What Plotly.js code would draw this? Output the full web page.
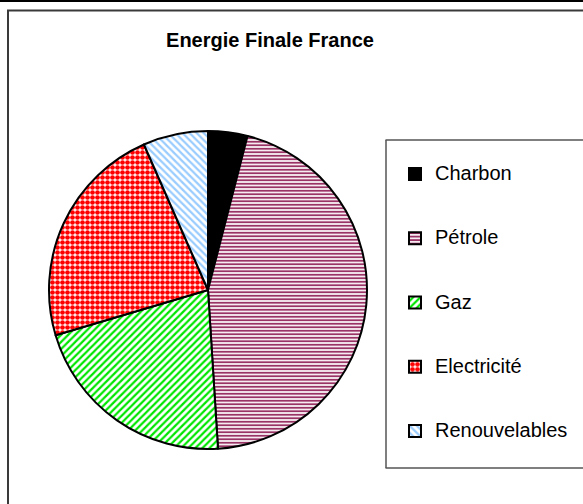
<!DOCTYPE html>
<html>
<head>
<meta charset="utf-8">
<script src="https://cdn.plot.ly/plotly-3.0.1.min.js"></script>
<style>
  html, body { margin: 0; padding: 0; background: #ffffff; }
  #chart { width: 583px; height: 504px; }
</style>
</head>
<body>
<div id="chart"></div>
<script>
// ---- Data (share of final energy, %) ----
var labels = ["Charbon", "Pétrole", "Gaz", "Electricité", "Renouvelables"];
var values = [4, 45, 21.4, 23, 6.6];
var chartTitle = "Energie Finale France";

// ---- Styles ----
var sliceColors   = ["#000000", "#ffffff", "#ffffff", "#ffffff", "#ffffff"];
var patternShapes = ["", "-", "/", ".", "\\"];
var patternFg     = ["#000000", "#993366", "#00e600", "#ff0000", "#99ccff"];
var patternBg     = ["#000000", "#ffffff", "#ffffff", "#ffffff", "#ffffff"];

var W = 583, H = 504;
function px(x) { return x / W; }
function py(y) { return 1 - y / H; }

// legend labels: visible text on middle line, blank lines for spacing
var legendText = labels.map(function (l) {
  return " <br><span style=\"font-size:20px\">" + l + "</span><br> ";
});

var cx = 208, cy = 290, r = 159;

var trace = {
  type: "pie",
  labels: legendText,
  values: values,
  sort: false,
  direction: "clockwise",
  rotation: 0,
  textinfo: "none",
  hoverinfo: "none",
  domain: { x: [px(cx - r), px(cx + r)], y: [py(cy + r), py(cy - r)] },
  marker: {
    colors: sliceColors,
    line: { color: "#000000", width: 2 },
    pattern: {
      shape: patternShapes,
      fgcolor: patternFg,
      bgcolor: patternBg,
      size: [8, 3.5, 5, 5, 5],
      solidity: [1, 0.55, 0.45, 0.7, 0.45]
    }
  },
  showlegend: true
};

var lineCol = "#3a3a3a";
var layout = {
  width: W, height: H,
  margin: { l: 0, r: 0, t: 0, b: 0, pad: 0 },
  paper_bgcolor: "#ffffff",
  plot_bgcolor: "#ffffff",
  font: { family: "Liberation Sans, Arial, sans-serif", color: "#000000" },
  title: {
    text: chartTitle,
    font: { family: "Liberation Sans, Arial, sans-serif", size: 20, weight: "bold", color: "#000000" },
    x: px(270), xanchor: "center", xref: "paper",
    y: py(40), yanchor: "middle", yref: "container"
  },
  legend: {
    x: px(395), xanchor: "left",
    y: py(137), yanchor: "top",
    bgcolor: "rgba(0,0,0,0)",
    borderwidth: 0,
    font: { family: "Liberation Sans, Arial, sans-serif", size: 15.7, color: "#000000" },
    valign: "middle",
    traceorder: "normal"
  },
  shapes: [
    { type: "line", xref: "paper", yref: "paper", x0: 0, x1: 1, y0: py(1), y1: py(1), line: { color: "#000000", width: 2 } },
    { type: "line", xref: "paper", yref: "paper", x0: px(8), x1: px(8), y0: py(10), y1: 0, line: { color: lineCol, width: 2 } },
    { type: "line", xref: "paper", yref: "paper", x0: px(7), x1: 1, y0: py(10.5), y1: py(10.5), line: { color: lineCol, width: 2 } },
    { type: "line", xref: "paper", yref: "paper", x0: px(386), x1: px(386), y0: py(140), y1: py(468), line: { color: "#555555", width: 1.5 } },
    { type: "line", xref: "paper", yref: "paper", x0: px(385.5), x1: 1, y0: py(140), y1: py(140), line: { color: "#555555", width: 1.5 } },
    { type: "line", xref: "paper", yref: "paper", x0: px(385.5), x1: 1, y0: py(468), y1: py(468), line: { color: "#555555", width: 1.5 } }
  ]
};

Plotly.newPlot("chart", [trace], layout, { displayModeBar: false, staticPlot: true });
</script>
</body>
</html>
